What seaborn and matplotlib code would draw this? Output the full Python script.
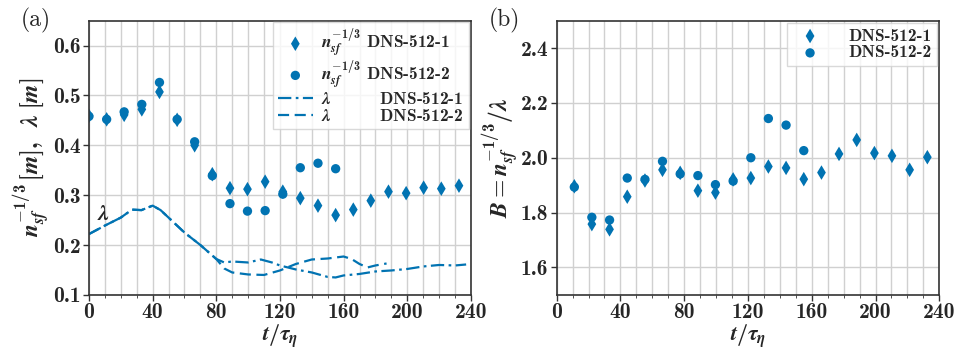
import numpy as np
import pandas as pd
import seaborn as sns
import matplotlib
matplotlib.use("Agg")
import matplotlib.pyplot as plt
from matplotlib.ticker import MultipleLocator

# sample times t/tau_eta
t_pts = [0, 11.1, 22.1, 33.2, 44.3, 55.4, 66.4, 77.5, 88.6, 99.6, 110.7,
         121.8, 132.8, 143.9, 155.0, 166.1, 177.1, 188.2, 199.3, 210.3, 221.4, 232.5]

# n_sf^{-1/3}
n1 = [0.459, 0.452, 0.461, 0.472, 0.507, 0.451, 0.400, 0.342, 0.314, 0.312, 0.327,
      0.307, 0.294, 0.279, 0.260, 0.271, 0.289, 0.307, 0.304, 0.315, 0.313, 0.319]
n2 = [0.458, 0.452, 0.467, 0.482, 0.526, 0.452, 0.407, 0.339, 0.283, 0.268, 0.269,
      0.302, 0.355, 0.364, 0.353]

# lambda curves
t_lam1 = [0, 10, 20, 27, 33, 40, 45, 50, 60, 70, 80, 85, 90, 100, 108, 115, 120, 130,
          140, 150, 155, 160, 170, 180, 190, 200, 210, 220, 230, 237]
lam1 = [0.222, 0.239, 0.255, 0.271, 0.270, 0.279, 0.270, 0.255, 0.225, 0.200, 0.172,
        0.165, 0.167, 0.165, 0.171, 0.165, 0.159, 0.151, 0.145, 0.136, 0.135, 0.139,
        0.142, 0.147, 0.149, 0.152, 0.157, 0.160, 0.159, 0.161]
t_lam2 = [0, 10, 20, 27, 33, 40, 45, 50, 60, 70, 80, 85, 90, 100, 110, 120, 130, 140,
          150, 160, 165, 170, 175, 180, 187]
lam2 = [0.222, 0.239, 0.255, 0.271, 0.270, 0.279, 0.270, 0.255, 0.225, 0.200, 0.172,
        0.153, 0.145, 0.141, 0.140, 0.149, 0.162, 0.171, 0.173, 0.177, 0.172, 0.162,
        0.155, 0.159, 0.163]

# B = n_sf^{-1/3} / lambda
B1 = [1.896, 1.758, 1.739, 1.858, 1.917, 1.956, 1.945, 1.880, 1.873, 1.921, 1.926,
      1.968, 1.963, 1.922, 1.946, 2.014, 2.065, 2.017, 2.007, 1.956, 2.002]
B2 = [1.893, 1.783, 1.773, 1.926, 1.921, 1.987, 1.941, 1.935, 1.902, 1.915, 2.000,
      2.143, 2.119, 2.026]

sns.set_style("ticks")
plt.rcParams['font.family'] = ['cmb10', 'DejaVu Serif']
plt.rcParams['mathtext.fontset'] = 'custom'
plt.rcParams['mathtext.rm'] = 'cmb10'
plt.rcParams['mathtext.it'] = 'STIXGeneral:italic:bold'
plt.rcParams['mathtext.bf'] = 'STIXGeneral:bold'
plt.rcParams['axes.unicode_minus'] = False

col = sns.color_palette("colorblind")[0]

fig = plt.figure(figsize=(9.63, 3.49), dpi=100)
ax1 = fig.add_axes([0.0924, 0.155, 0.3966, 0.786])
ax2 = fig.add_axes([0.578, 0.155, 0.3974, 0.786])

sns.scatterplot(x=t_pts, y=n1, ax=ax1, marker='d', s=55, color=col, edgecolor='none',
                label=r'$n_{sf}^{-1/3}$ DNS-512-1')
sns.scatterplot(x=t_pts[:len(n2)], y=n2, ax=ax1, marker='o', s=45, color=col,
                edgecolor='none', label=r'$n_{sf}^{-1/3}$ DNS-512-2')
sns.lineplot(x=t_lam1, y=lam1, ax=ax1, color=col, linestyle=(0, (6, 2, 1.2, 2)), lw=1.6,
             label=r'$\lambda\qquad\quad\ \ $DNS-512-1')
sns.lineplot(x=t_lam2, y=lam2, ax=ax1, color=col, linestyle=(0, (5, 2.5)), lw=1.6,
             label=r'$\lambda\qquad\quad\ \ $DNS-512-2')
ax1.text(5, 0.25, r'$\lambda$', fontsize=16)

sns.scatterplot(x=t_pts[1:], y=B1, ax=ax2, marker='d', s=55, color=col,
                edgecolor='none', label='DNS-512-1')
sns.scatterplot(x=t_pts[1:1 + len(B2)], y=B2, ax=ax2, marker='o', s=45, color=col,
                edgecolor='none', label='DNS-512-2')

ax1.set_xlim(0, 240)
ax1.set_ylim(0.1, 0.65)
ax1.yaxis.set_major_locator(MultipleLocator(0.1))
ax2.set_xlim(0, 240)
ax2.set_ylim(1.5, 2.5)
ax2.yaxis.set_major_locator(MultipleLocator(0.2))

for ax in (ax1, ax2):
    ax.xaxis.set_major_locator(MultipleLocator(40))
    ax.xaxis.set_minor_locator(MultipleLocator(10))
    ax.grid(True, which='major', color='#d0d0d0', lw=1.0)
    ax.grid(True, which='minor', axis='x', color='#d0d0d0', lw=1.0)
    ax.tick_params(labelsize=15.5, width=1.0, length=4, color='#333333', pad=2)
    ax.tick_params(which='minor', length=2.5, color='#333333')
    ax.set_xlabel(r'$t/\tau_\eta$', fontsize=16, labelpad=0)
    for s in ax.spines.values():
        s.set_color('#333333')
        s.set_linewidth(1.2)
    ax.set_axisbelow(True)

ax1.set_ylabel(r'$n_{sf}^{-1/3}\,[m],\ \ \lambda\ [m]$', fontsize=17, labelpad=1)
ax2.set_ylabel(r'$B = n_{sf}^{-1/3}/\lambda$', fontsize=17, labelpad=0)

leg1 = ax1.legend(loc='upper right', fontsize=12.5, frameon=True, borderaxespad=0.1,
                  handlelength=2.0, handletextpad=0.5, labelspacing=0.05,
                  borderpad=0.3, fancybox=False)
leg2 = ax2.legend(loc='upper right', fontsize=12.5, frameon=True, borderaxespad=0.15,
                  handlelength=2.0, handletextpad=1.2, labelspacing=0.1,
                  borderpad=0.3, fancybox=False)
for lg in (leg1, leg2):
    lg.get_frame().set_edgecolor('#d0d0d0')

fig.text(0.022, 0.925, '(a)', fontsize=17, family='cmr10')
fig.text(0.508, 0.925, '(b)', fontsize=17, family='cmr10')

fig.savefig('out.png', dpi=100)
